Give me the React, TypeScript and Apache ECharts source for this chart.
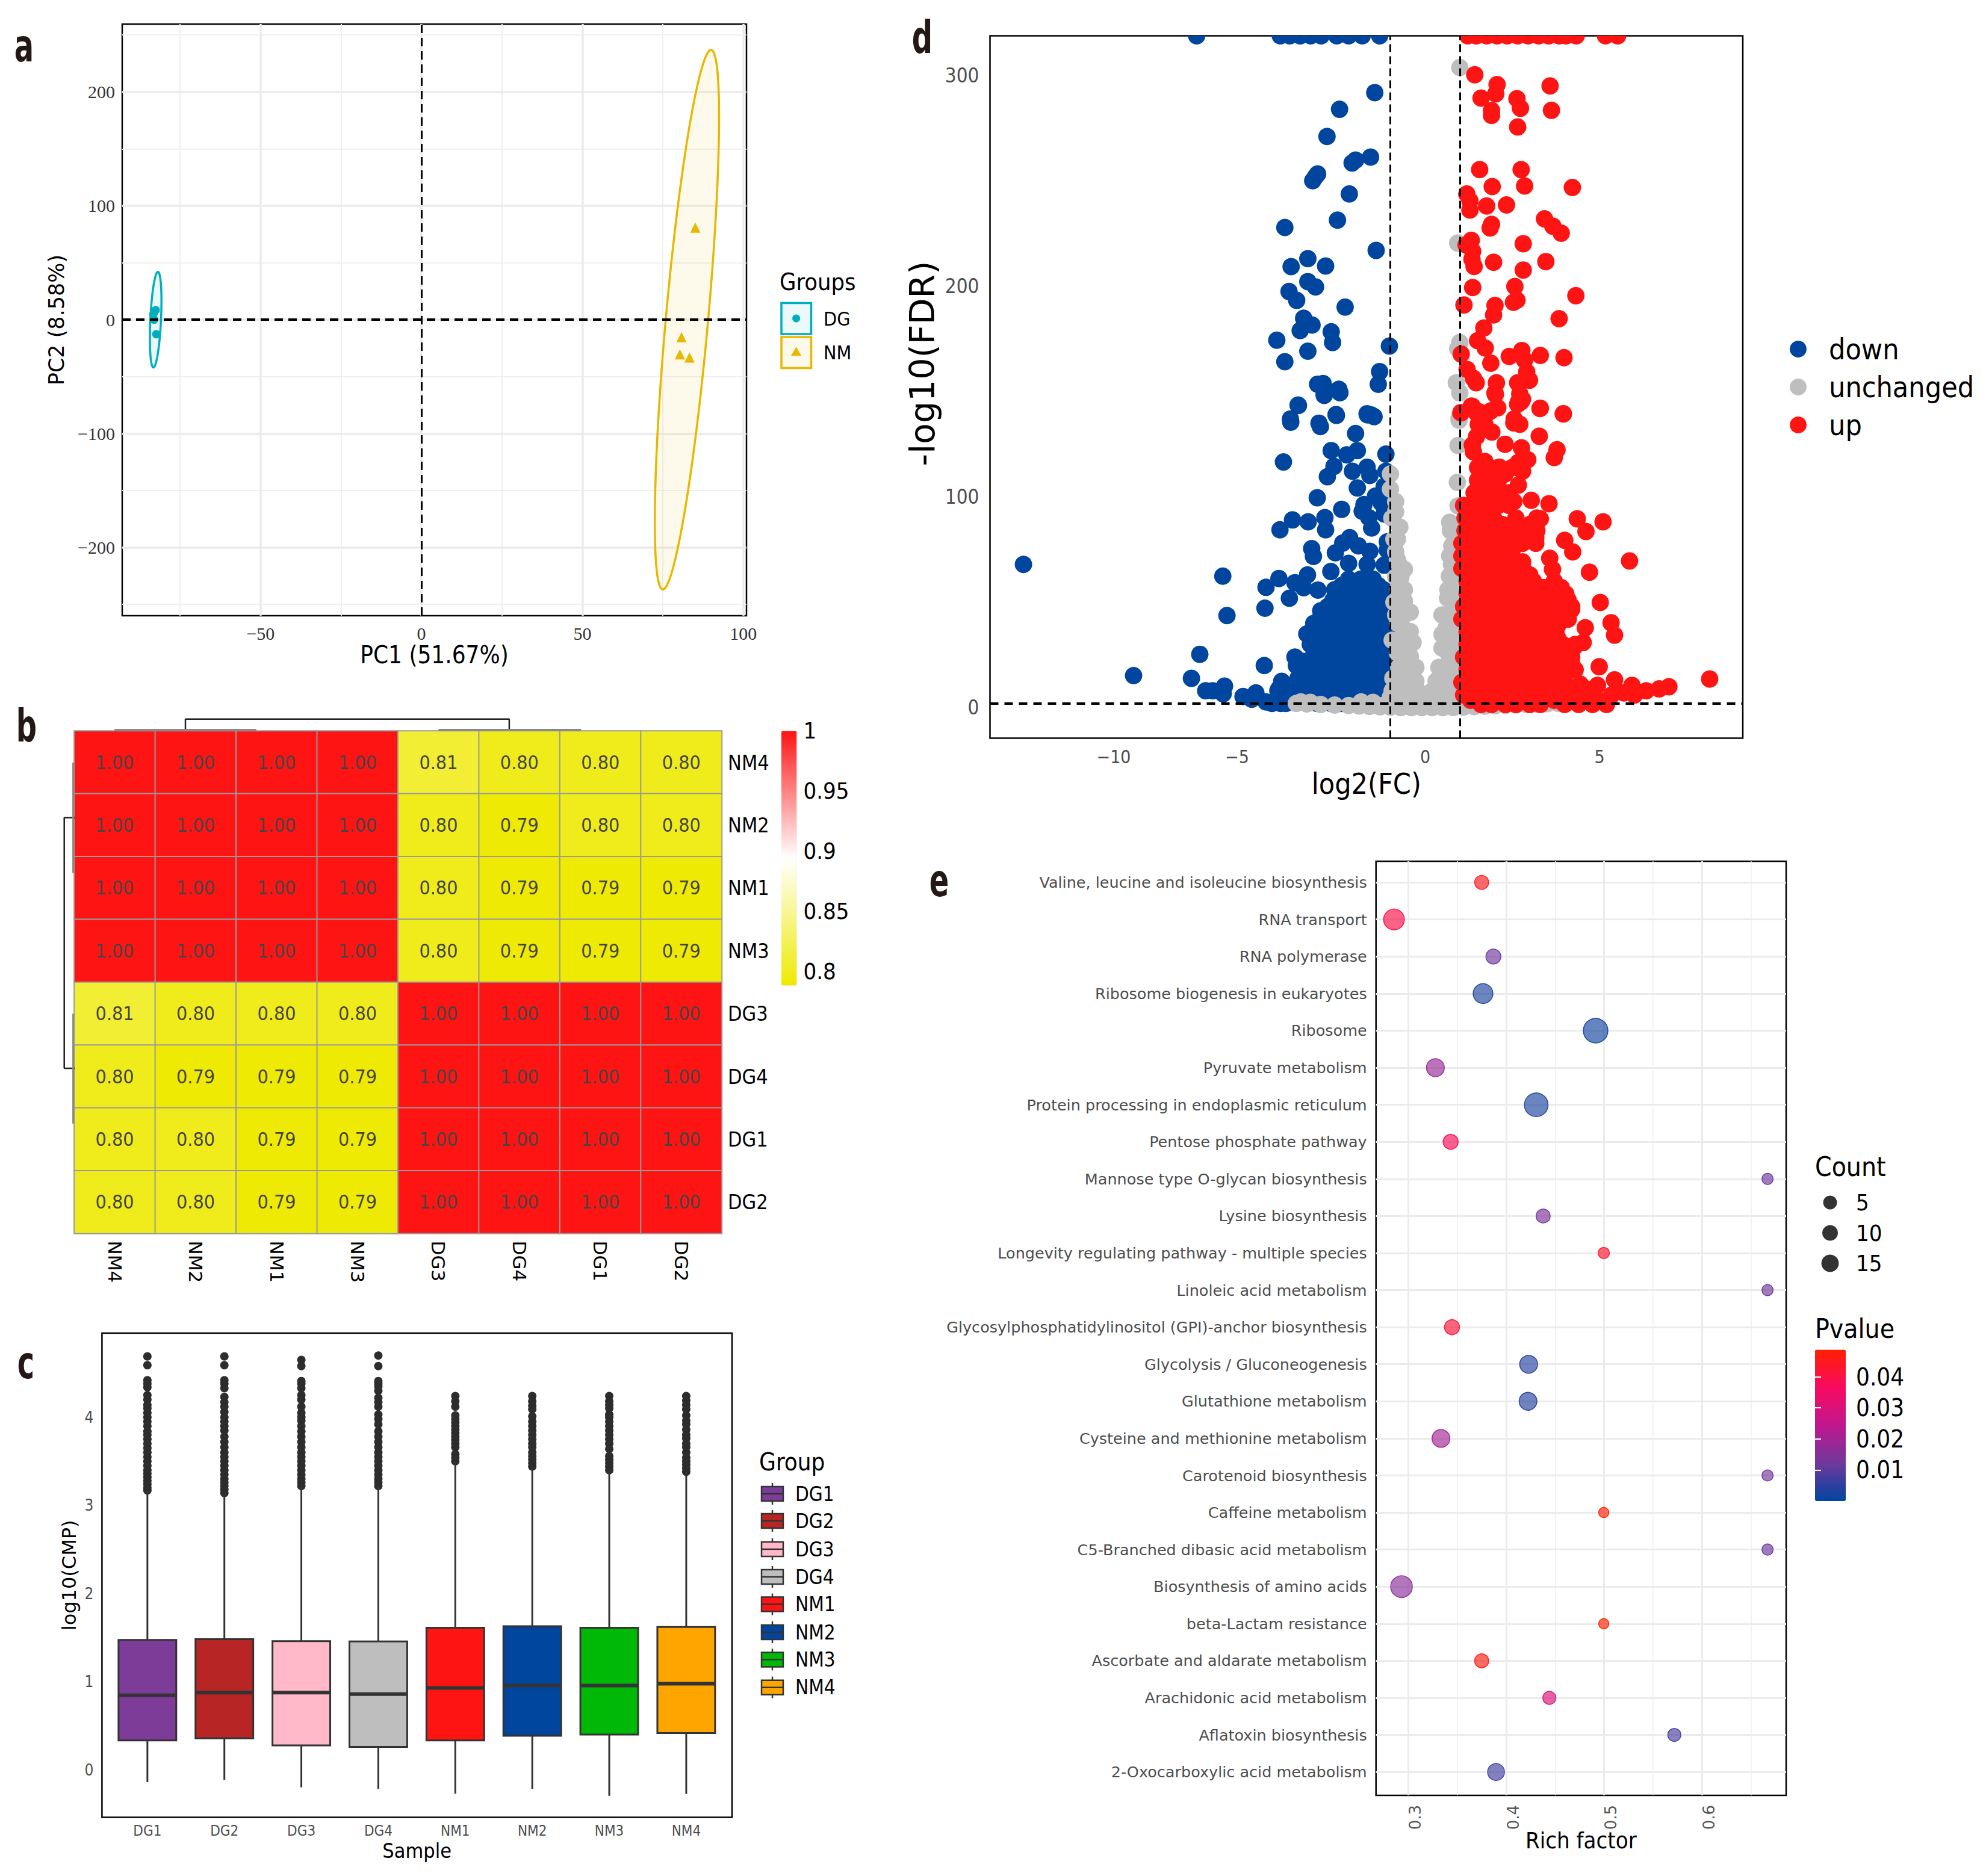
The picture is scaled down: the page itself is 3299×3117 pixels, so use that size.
import { useEffect, useRef } from 'react'
import * as echarts from 'echarts'

const SANS = 'DejaVu Sans Condensed, DejaVu Sans, sans-serif'
const WIDE = 'DejaVu Sans, sans-serif'
const SERIF = 'Liberation Serif, serif'
const TICK_GREY = '#4d4d4d'
const DARK = '#333333'

// a: PCA
const dgPoints = [[-82.6, 8.4], [-83.3, 4.7], [-83.1, 0], [-82.4, -12.8]]
const nmPoints = [[85.1, 80.8], [80.8, -15.4], [80.3, -30.5], [83.3, -33.2]]
// centre x, centre y, x lean, x half width, y half height
const pcaEllipses = [
  [-82.6, 0, 0.7, 1.66, 42],
  [82.5, 0, 7.5, 6.6, 237],
]
const pcaColors = ['#00AFBB', '#E7B800']
const pcaLegendNames = ['DG', 'NM']

// b: correlation heatmap
const heatNames = ['NM4', 'NM2', 'NM1', 'NM3', 'DG3', 'DG4', 'DG1', 'DG2']
const heatValues = [
  [1, 1, 1, 1, 0.81, 0.8, 0.8, 0.8],
  [1, 1, 1, 1, 0.8, 0.79, 0.8, 0.8],
  [1, 1, 1, 1, 0.8, 0.79, 0.79, 0.79],
  [1, 1, 1, 1, 0.8, 0.79, 0.79, 0.79],
  [0.81, 0.8, 0.8, 0.8, 1, 1, 1, 1],
  [0.8, 0.79, 0.79, 0.79, 1, 1, 1, 1],
  [0.8, 0.8, 0.79, 0.79, 1, 1, 1, 1],
  [0.8, 0.8, 0.79, 0.79, 1, 1, 1, 1],
]
const heatTicks = [0.8, 0.85, 0.9, 0.95, 1]
const dendroTop = [
  [[1.373, 0], [1.373, 0.8], [5.374, 0.8], [5.374, 0]],
]
const dendroTopFlat = [
  [[0.495, 0.06], [2.25, 0.06]],
  [[4.5, 0.06], [6.26, 0.06]],
]
const dendroLeft = [
  [[0, 1.38], [0.72, 1.38], [0.72, 5.37], [0, 5.37]],
]
const dendroLeftFlat = [
  [[0.1, 0.504], [0.1, 2.26]],
  [[0.1, 4.5], [0.1, 6.25]],
]

// c: boxplots
const boxNames = ['DG1', 'DG2', 'DG3', 'DG4', 'NM1', 'NM2', 'NM3', 'NM4']
const boxColors = ['#7D3C98', '#B72525', '#FFB9C8', '#BEBEBE', '#FF1414', '#00469F', '#00B906', '#FFA500']
// index, low whisker, q1, median, q3, high whisker
const boxStats = [
  [0, -0.139, 0.333, 0.846, 1.474, 3.166],
  [1, -0.114, 0.358, 0.876, 1.482, 3.137],
  [2, -0.198, 0.278, 0.876, 1.461, 3.217],
  [3, -0.215, 0.261, 0.859, 1.457, 3.22],
  [4, -0.27, 0.333, 0.93, 1.613, 3.495],
  [5, -0.215, 0.387, 0.956, 1.63, 3.44],
  [6, -0.295, 0.4, 0.956, 1.613, 3.398],
  [7, -0.274, 0.417, 0.977, 1.62, 3.377],
]
const boxOutliers = [
  [3.17, 3.2, 3.24, 3.28, 3.32, 3.36, 3.4, 3.45, 3.5, 3.55, 3.6, 3.65, 3.7, 3.75, 3.8, 3.84, 3.9, 3.95, 4.0, 4.05, 4.1, 4.14, 4.2, 4.25, 4.34, 4.38, 4.42, 4.59, 4.69],
  [3.14, 3.18, 3.22, 3.26, 3.3, 3.35, 3.4, 3.45, 3.5, 3.55, 3.6, 3.66, 3.72, 3.78, 3.85, 3.9, 3.95, 4.0, 4.06, 4.12, 4.17, 4.23, 4.33, 4.38, 4.42, 4.59, 4.69],
  [3.22, 3.26, 3.3, 3.35, 3.4, 3.45, 3.5, 3.55, 3.6, 3.66, 3.72, 3.78, 3.84, 3.9, 3.96, 4.0, 4.05, 4.12, 4.2, 4.25, 4.33, 4.38, 4.41, 4.58, 4.65],
  [3.22, 3.26, 3.3, 3.35, 3.4, 3.45, 3.5, 3.55, 3.6, 3.66, 3.72, 3.78, 3.84, 3.92, 3.98, 4.03, 4.12, 4.17, 4.22, 4.3, 4.35, 4.38, 4.41, 4.58, 4.7],
  [3.5, 3.54, 3.58, 3.66, 3.7, 3.74, 3.78, 3.82, 3.86, 3.9, 3.94, 3.98, 4.02, 4.12, 4.18, 4.24],
  [3.44, 3.48, 3.52, 3.56, 3.6, 3.66, 3.7, 3.75, 3.8, 3.85, 3.9, 3.95, 4.01, 4.09, 4.13, 4.18, 4.24],
  [3.4, 3.44, 3.48, 3.52, 3.56, 3.64, 3.7, 3.75, 3.8, 3.85, 3.9, 3.95, 4.0, 4.03, 4.1, 4.14, 4.18, 4.24],
  [3.38, 3.42, 3.46, 3.5, 3.54, 3.6, 3.66, 3.7, 3.76, 3.8, 3.86, 3.92, 3.96, 4.02, 4.09, 4.14, 4.19, 4.24],
]

// d: volcano. Points beyond the axis are pinned to its top and cut by the frame.
const volcanoTop = 318.9
const downTopX = [-6.56, -4.16, -3.89, -3.59, -3.29, -2.99, -2.54, -2.2, -1.81, -1.31]
const upTopX = [1.22, 1.46, 1.76, 2.06, 2.35, 2.65, 2.95, 3.25, 3.54, 3.84, 4.04, 4.33, 5.17, 5.52]
const downPoints = [
  [-1.45, 291.9], [-2.46, 284], [-2.82, 271.1], [-1.57, 261.3], [-2.0, 259.9], [-2.1, 258.5], [-3.09, 253.3], [-3.15, 252], [-3.23, 250.1],
  [-2.18, 243.8], [-2.52, 231.4], [-4.03, 227.9], [-1.41, 217], [-3.37, 213.1], [-3.85, 209.3], [-2.86, 209.6], [-3.37, 202.2], [-3.15, 199.7],
  [-3.91, 197.5], [-3.69, 193.3], [-2.3, 190.1], [-3.49, 184.8], [-3.25, 181.6], [-3.59, 179], [-2.7, 178.4], [-2.66, 173.3], [-4.26, 174.4],
  [-3.37, 169.2], [-1.03, 171.6], [-4.03, 164.2], [-1.31, 159.5], [-3.09, 153.5], [-2.93, 153.8], [-2.48, 151.1], [-1.35, 153.5], [-2.9, 149],
  [-3.65, 143.6], [-2.56, 139.1], [-1.67, 139.5], [-1.55, 138.9], [-3.87, 137], [-3.05, 135],
  [-2.9, 148.2], [-2.45, 149.5], [-3.64, 143.4], [-2.55, 138.7], [-1.66, 139], [-1.47, 138.1], [-3.86, 135.5], [-3.01, 133.4], [-2.0, 130.1],
  [-2.7, 122], [-1.95, 122], [-2.25, 120], [-1.13, 120.3], [-4.07, 116.6], [-2.62, 114.5], [-1.67, 114.1], [-2.09, 112.2], [-1.13, 112.2],
  [-2.81, 109.6], [-1.59, 110.2], [-1.95, 104.3], [-1.18, 105], [-1.43, 100.4], [-3.1, 99.6], [-1.01, 99.5], [-1.76, 96.4], [-1.26, 97.1],
  [-2.4, 94.1], [-1.81, 93.2], [-1.18, 91.9], [-1.62, 90.2], [-2.88, 90.2], [-3.81, 89.1], [-3.36, 88.2], [-4.17, 84.4], [-2.86, 84.4], [-1.54, 85.3],
  [-2.17, 80.7], [-1.09, 78.7], [-2.37, 78.1], [-1.92, 76.8], [-3.26, 75.5], [-2.58, 73.5], [-1.59, 74.2], [-1.09, 74.8], [-3.21, 71.8], [-2.2, 68.5],
  [-1.67, 68], [-1.18, 67.6], [-11.53, 68], [-5.81, 62.4], [-2.71, 64.6], [-4.2, 61.3], [-3.38, 63], [-3.74, 59.3], [-3.49, 56.9], [-3.08, 55.8],
  [-4.57, 57.1], [-3.9, 51.9], [-4.6, 47.2], [-5.69, 43.7], [-6.47, 25.3], [-4.62, 20], [-8.37, 15.2], [-6.71, 13.9], [-6.3, 8], [-6.1, 8],
  [-5.76, 10.2], [-5.8, 6.6], [-5.23, 5.3], [-4.86, 7], [-4.98, 4], [-4.57, 2.7], [-4.15, 2], [-4.12, 12.5], [-4.23, 8], [-3.74, 24],
]
// y, then the x values of that row in the dense block
const downRows: [number, number[]][] = [
  [61, [-2.2, -1.85, -1.5]],
  [58, [-2.4, -2.05, -1.7, -1.35]],
  [56, [-2.6, -2.25, -1.9, -1.55, -1.2]],
  [53, [-2.45, -2.1, -1.75, -1.4, -1.1]],
  [51, [-2.65, -2.3, -1.95, -1.6, -1.25]],
  [48, [-2.8, -2.45, -2.1, -1.7, -1.3]],
  [46, [-3.0, -2.6, -2.25, -1.9, -1.5, -1.1]],
  [43, [-3, -2.65, -2.3, -1.9, -1.5, -1.15]],
  [40, [-3.2, -2.85, -2.5, -2.1, -1.7, -1.3, -1.05]],
  [37, [-3.2, -2.85, -2.5, -2.15, -1.8, -1.45, -1.1]],
  [35, [-3.4, -3.05, -2.7, -2.35, -2, -1.65, -1.3, -1.05]],
  [32, [-3.15, -2.8, -2.45, -2.1, -1.75, -1.4, -1.1]],
  [30, [-3.3, -2.95, -2.6, -2.25, -1.9, -1.55, -1.2]],
  [27, [-3.0, -2.4, -2.05, -1.7, -1.35, -1.05]],
  [25, [-3.2, -2.6, -2.25, -1.9, -1.55, -1.1]],
  [22, [-3.5, -3.1, -2.7, -2.3, -1.9, -1.5, -1.15]],
  [20, [-3.7, -3.3, -2.9, -2.5, -2.1, -1.7, -1.3]],
  [17, [-3.5, -3.1, -2.75, -2.4, -2.05, -1.7, -1.35, -1.1]],
  [14, [-3.65, -3.3, -2.95, -2.6, -2.25, -1.9, -1.55, -1.2]],
  [11, [-3.5, -3.15, -2.8, -2.45, -2.1, -1.75, -1.4, -1.15]],
  [9, [-4.2, -3.7, -3.35, -3, -2.65, -2.3, -1.95, -1.6, -1.3]],
  [6, [-4, -3.6, -3.2, -2.85, -2.5, -2.1, -1.75]],
  [4, [-4.2, -3.85, -3.0, -2.65, -2.3, -1.9]],
  [2, [-4.4, -4, -3.1, -2.7, -2.4, -2.1]],
]
const unchangedPoints = [
  [0.99, 303.8], [0.93, 220.5], [0.99, 173.3], [0.93, 170.4], [0.89, 154.2], [0.99, 149.4], [0.97, 137.6],
  [-1.0, 110.9], [-1, 103.7], [-0.85, 97.8], [-0.96, 89.9], [-0.73, 85.7], [-0.8, 70.2], [-0.6, 65.6], [-0.73, 59.1], [-0.6, 50.6], [-0.43, 45.3],
  [-0.43, 36.1], [-0.35, 30.9], [-0.43, 24.3], [-0.27, 19.1], [-0.27, 12.6], [-0.19, 7.3], [-0.93, 13.9], [-0.76, 19.1], [-0.85, 8.6], [-0.8, 40], [-0.7, 30],
  [0.92, 106.9], [0.94, 95.8], [0.97, 136.4], [0.94, 124.4], [0.72, 84], [0.8, 86], [0.76, 76.8], [0.69, 62.4], [0.64, 51.9], [0.48, 44], [0.48, 34.8],
  [0.48, 28.3], [0.39, 19.1], [0.31, 12.6], [0.14, 7.3], [0.89, 20.4], [0.89, 32.2], [0.89, 45.3], [0.89, 61],
  [-3.57, 2.7], [-3.3, 2.5], [-1.84, 2.7], [-1.5, 2.5],
  [-3.7, 2], [-3.4, 1.8], [-3, 1.5], [-2.6, 1.2], [-2.2, 1], [-1.9, 0.8], [-1.6, 0.6], [-1.3, 0.4], [-1, 0.2], [-0.7, 0], [-0.4, 0], [-0.1, 0],
  [0.2, 0], [0.5, 0], [0.8, 0.1], [1.1, 0.3], [1.4, 0.5], [1.7, 0.7], [2, 0.9], [2.3, 1.1], [2.6, 1.3], [2.9, 1.5], [3.2, 1.7], [3.5, 1.9], [3.8, 2.1],
  [-0.8, 4], [-0.5, 4], [-0.2, 2], [0.1, 2], [0.4, 3], [0.7, 4], [1, 6], [-1, 5], [-0.1, 3], [0.1, 3],
  [-0.95, 8], [-0.7, 8], [-0.45, 8], [-0.7, 14], [-0.45, 14], [-0.55, 20], [-0.8, 26], [-0.6, 26], [-0.95, 32], [-0.7, 32], [-0.5, 32], [-0.65, 38],
  [-0.85, 44], [-0.6, 44], [-0.9, 50], [-0.75, 50], [-0.8, 56], [-0.6, 56], [-0.85, 62], [-0.7, 62], [-0.75, 68], [-0.85, 74], [-0.9, 80], [-0.8, 80], [-0.85, 93],
  [0.3, 8], [0.6, 8], [0.9, 8], [0.5, 14], [0.8, 14], [0.6, 20], [0.65, 26], [0.85, 26], [0.6, 32], [0.8, 32], [0.6, 38], [0.8, 38], [0.7, 44], [0.75, 50],
  [0.8, 56], [0.65, 56], [0.75, 68], [0.7, 72], [0.7, 88],
]
const upPoints = [
  [1.42, 300.4], [2.06, 295.7], [2.02, 291.3], [1.6, 289.3], [2.63, 289], [2.73, 284.5], [3.58, 295.1], [3.62, 283.5], [1.9, 283.4], [1.9, 281.1],
  [2.65, 275.6], [1.56, 255.4], [2.75, 255.4], [1.92, 247.3], [2.85, 247.6], [4.22, 246.9], [1.19, 243.8], [1.28, 240.5], [1.28, 236.2], [1.76, 238.1],
  [2.33, 238.6], [3.42, 232], [3.66, 228.5], [3.9, 225.2], [1.9, 229.4], [1.86, 227.7], [1.32, 221.8], [1.17, 219.6], [2.81, 220.2], [1.36, 216.6],
  [1.34, 212.8], [1.4, 209.4], [1.96, 211.4], [3.46, 211.7], [2.81, 207.7], [1.36, 199.4], [2.57, 199.9], [4.32, 195.5], [2.63, 193.4], [2.53, 192.4],
  [1.11, 191.1], [2.0, 190.9], [1.96, 186.4], [3.84, 184.6], [1.68, 180.2], [1.5, 174.2], [1.72, 170.7], [1.03, 167.8], [2.41, 166.7], [2.77, 169.5],
  [2.85, 165], [3.3, 167.2], [3.98, 166.1], [1.88, 163.5], [1.2, 160.5], [2.91, 159.3], [1.38, 156.3], [1.46, 154.2], [2.04, 154.2], [2.99, 155.4],
  [2.65, 154.2], [2.0, 149.4], [2.71, 149], [2.75, 145.2], [2.65, 144], [2.04, 142.3], [1.32, 143.1], [3.29, 142], [1.03, 139.9], [1.46, 140.1],
  [1.76, 139.5], [3.96, 139.5], [2.55, 137], [2.01, 148.6], [2.67, 145], [2.79, 146.3], [3.3, 142.1], [3.96, 139.4], [1.35, 143], [1.02, 140],
  [1.55, 140.4], [1.88, 140.8], [2.08, 142.3], [2.54, 135.1], [2.71, 134.5], [1.52, 134.5], [1.71, 134.5], [1.47, 128.6], [1.91, 130.8], [3.27, 128.8],
  [2.29, 125], [2.76, 123.3], [3.78, 122.4], [3.7, 118.7], [1.38, 121.4], [1.35, 124.6], [1.71, 116.8], [2.94, 117.7], [2.67, 116.4], [2.79, 112.2],
  [1.71, 112.8], [2.13, 114.1], [2.29, 110.9], [1.6, 105.9], [2.67, 105.6], [1.88, 101.7], [1.55, 101], [3.04, 98.4], [3.55, 96.8], [2.54, 97.8],
  [2.05, 98.4], [1.3, 93.8], [1.71, 92.5], [3.3, 89.6], [4.36, 89.6], [5.1, 88.2], [2.63, 87.9], [4.61, 83.6], [4, 79.4], [3.17, 80.7], [2.79, 78.7],
  [4.23, 73.9], [3.57, 70.9], [2.79, 69.2], [5.86, 69.6], [3.65, 65.6], [4.71, 64.3], [5.02, 49.9], [5.33, 40.3], [5.43, 34.4], [4.59, 37.9], [4.99, 19.4],
  [8.16, 13.6], [6.99, 9.9], [6.71, 8.9], [6.34, 8], [5.93, 10.6], [5.43, 13.2], [4.94, 10.6], [4.44, 11.2], [5.35, 6], [4.85, 4.7], [4.28, 4], [3.87, 3.4],
  [5.7, 7], [6.0, 6], [4.03, 46.6], [4.2, 46.6], [4.03, 53.8], [3.7, 58.4], [4.28, 28.9], [4.53, 30.9],
]
const upRows: [number, number[]][] = [
  [114, [1.5, 1.8, 2.1, 2.5]],
  [108, [1.5, 1.75, 2.1]],
  [102, [1.4, 1.75, 2.1, 2.4]],
  [96, [1.1, 1.4, 1.75, 2.1, 2.4]],
  [90, [1.14, 1.55, 1.96, 2.6, 3.2]],
  [87, [1.35, 1.75, 2.2, 3.0]],
  [84, [1.14, 1.55, 1.96, 2.38, 2.79, 3.2]],
  [81, [1.3, 1.7, 2.15, 2.6, 3.0]],
  [78, [1.05, 1.5, 1.9, 2.3, 2.79, 3.17]],
  [75, [1.25, 1.65, 2.0, 2.5]],
  [72, [1.05, 1.4, 1.8, 2.2]],
  [69, [1.2, 1.6, 2.0, 2.5]],
  [66, [1.05, 1.4, 1.8, 2.2, 2.8]],
  [63, [1.4, 1.8, 2.2, 2.6, 3]],
  [60, [1.2, 1.6, 2, 2.4, 2.8, 3.1, 3.7]],
  [57, [1.4, 1.8, 2.2, 2.6, 3, 3.4, 3.9]],
  [54, [1.2, 1.6, 2, 2.4, 2.8, 3.2, 3.6, 4.03]],
  [51, [1.3, 1.7, 2.1, 2.5, 2.9, 3.3, 3.7, 4.1]],
  [48, [1.1, 1.5, 1.9, 2.3, 2.7, 3.1, 3.5, 3.9, 4.2]],
  [45, [1.25, 1.6, 2, 2.4, 2.8, 3.2, 3.6, 4]],
  [42, [1.05, 1.4, 1.8, 2.2, 2.6, 3, 3.4, 3.8, 4.1]],
  [39, [1.4, 1.8, 2.2, 2.6, 3, 3.4, 3.8]],
  [36, [1.2, 1.6, 2, 2.4, 2.8, 3.2, 3.6, 3.75]],
  [33, [1.4, 1.8, 2.2, 2.6, 3, 3.4, 3.8]],
  [30, [1.2, 1.6, 2, 2.4, 2.8, 3.2, 3.6, 3.95, 4.3]],
  [27, [1.3, 1.7, 2.1, 2.5, 2.9, 3.3, 3.7, 4.1]],
  [24, [1.1, 1.5, 1.9, 2.3, 2.7, 3.1, 3.5, 3.9, 4.2]],
  [21, [1.4, 1.8, 2.2, 2.6, 3, 3.4, 3.8, 4.2]],
  [18, [1.2, 1.6, 2, 2.4, 2.8, 3.2, 3.6, 4.0, 4.3]],
  [15, [1.25, 1.6, 2, 2.4, 2.8, 3.2, 3.6, 4]],
  [12, [1.05, 1.4, 1.8, 2.2, 2.6, 3, 3.4, 3.8]],
  [9, [1.3, 1.7, 2.1, 2.5, 2.9, 3.3, 3.7, 4.1, 4.6]],
  [6, [1.1, 1.5, 1.9, 2.3, 2.7, 3.1, 3.5, 3.9, 4.3]],
  [3.5, [1.3, 1.7, 2.1, 2.5, 2.9, 3.3, 3.7, 4.2, 4.6, 5]],
  [1.5, [1.6, 1.9, 2.3, 2.6, 3.0, 3.3, 4, 4.4, 4.8, 5.2]],
]
// the printed -10 and -5 sit off the linear scale in the figure
const volcanoXTickAt = [-8.94, -5.4, 0, 5]
const volcanoXTickText = ['\u221210', '\u22125', '0', '5']
const volcanoNames = ['down', 'unchanged', 'up']
const volcanoColors = ['#00469F', '#BEBEBE', '#FF1414']

// e: KEGG enrichment, top row first
const pathways = [
  'Valine, leucine and isoleucine biosynthesis', 'RNA transport', 'RNA polymerase', 'Ribosome biogenesis in eukaryotes', 'Ribosome',
  'Pyruvate metabolism', 'Protein processing in endoplasmic reticulum', 'Pentose phosphate pathway', 'Mannose type O-glycan biosynthesis',
  'Lysine biosynthesis', 'Longevity regulating pathway - multiple species', 'Linoleic acid metabolism',
  'Glycosylphosphatidylinositol (GPI)-anchor biosynthesis', 'Glycolysis / Gluconeogenesis', 'Glutathione metabolism',
  'Cysteine and methionine metabolism', 'Carotenoid biosynthesis', 'Caffeine metabolism', 'C5-Branched dibasic acid metabolism',
  'Biosynthesis of amino acids', 'beta-Lactam resistance', 'Ascorbate and aldarate metabolism', 'Arachidonic acid metabolism',
  'Aflatoxin biosynthesis', '2-Oxocarboxylic acid metabolism',
]
const richFactor = [0.3748, 0.2852, 0.3868, 0.3762, 0.4913, 0.3275, 0.4306, 0.3431, 0.667, 0.4377, 0.4996, 0.667, 0.3445, 0.4228, 0.4222, 0.3332, 0.667, 0.4996, 0.667, 0.2929, 0.4996, 0.3748, 0.444, 0.5717, 0.3895]
const pathwayCount = [7, 14, 8, 13, 18, 11, 17, 8, 4, 7, 4, 4, 8, 11, 11, 11, 4, 3, 4, 15, 3, 7, 6, 6, 10]
const pathwayP = [0.045, 0.04, 0.012, 0.003, 0.002, 0.018, 0.003, 0.038, 0.012, 0.014, 0.043, 0.012, 0.042, 0.004, 0.004, 0.02, 0.013, 0.049, 0.012, 0.016, 0.049, 0.047, 0.03, 0.008, 0.007]
const pvalueStops = ['#00469F', '#70389C', '#C0178E', '#F80A60', '#FF2000']
const pvalueMax = 0.0487
const countLegend = ['5', '10', '15']
// the printed 0.3 .. 0.6 sit a little right of their grid lines in the figure
const richLabelAt = [0.307, 0.407, 0.507, 0.607]
const pvalueTicks = [0.01, 0.02, 0.03, 0.04]

const hiddenAxis = (gridIndex: number, min: number, max: number, inverse = false) => ({
  show: false, type: 'value', gridIndex, min, max, inverse,
})

// guide lines, drawn as marker lines through the axes of a grid
const rules = (axis: number, xs: number[], ys: number[], color: string, width: number, z: number, type: any = 'solid') => ({
  type: 'line',
  xAxisIndex: axis,
  yAxisIndex: axis,
  data: [],
  silent: true,
  z,
  markLine: {
    silent: true,
    symbol: 'none',
    z,
    label: { show: false },
    lineStyle: { color, width, type },
    data: [...xs.map((v) => ({ xAxis: v })), ...ys.map((v) => ({ yAxis: v }))],
  },
})

const text = (x: number, y: number, str: string, fontSize: number, extra: any = {}, el: any = {}) => ({
  type: 'text',
  x,
  y,
  z: 20,
  ...el,
  style: {
    text: str,
    fontSize,
    fontFamily: SANS,
    fill: '#000',
    textAlign: 'left',
    textVerticalAlign: 'middle',
    verticalAlign: 'middle',
    ...extra,
  },
})

const renderEllipse = (params: any, api: any) => {
  const [cx, cy, dx, ex, ry] = [0, 1, 2, 3, 4].map((i) => api.value(i))
  const points: number[][] = []
  for (let k = 0; k < 72; k++) {
    const t = (k / 72) * 2 * Math.PI
    points.push(api.coord([cx + dx * Math.cos(t) + ex * Math.sin(t), cy + ry * Math.cos(t)]))
  }
  const color = pcaColors[params.dataIndex]
  return {
    type: 'polygon',
    shape: { points },
    style: { fill: color, fillOpacity: 0.08, stroke: color, lineWidth: 3.5 },
  }
}

const renderBox = (params: any, api: any) => {
  const i = api.value(0)
  const half = api.size([0.75, 0])[0] / 2
  const x = api.coord([i, 0])[0]
  const y = (dim: number) => api.coord([i, api.value(dim)])[1]
  return {
    type: 'group',
    children: [
      { type: 'line', shape: { x1: x, y1: y(1), x2: x, y2: y(5) }, style: { stroke: DARK, lineWidth: 3 } },
      {
        type: 'rect',
        shape: { x: x - half, y: y(4), width: half * 2, height: y(2) - y(4) },
        style: { fill: boxColors[params.dataIndex], stroke: DARK, lineWidth: 3 },
      },
      { type: 'line', shape: { x1: x - half, y1: y(3), x2: x + half, y2: y(3) }, style: { stroke: DARK, lineWidth: 6 } },
    ],
  }
}

// scatter only drops points outside the grid; a custom series really clips them
const clippedDots = (xs: number[], color: string, z: number) => ({
  type: 'custom',
  xAxisIndex: 3,
  yAxisIndex: 3,
  z,
  clip: true,
  data: xs.map((x) => [x, volcanoTop]),
  encode: { x: 0, y: 1 },
  renderItem: (_: any, api: any) => {
    const [cx, cy] = api.coord([api.value(0), api.value(1)])
    return { type: 'circle', shape: { cx, cy, r: 14.5 }, style: { fill: color } }
  },
})

const dendroSeries = (axis: number, lines: number[][][], color: string, width: number) =>
  lines.map((data) => ({
    type: 'line',
    xAxisIndex: axis,
    yAxisIndex: axis,
    data,
    showSymbol: false,
    silent: true,
    lineStyle: { color, width },
  }))

const pvalueColor = (p: number, alpha: number) => {
  const rgba = echarts.color.parse(echarts.color.lerp(Math.min(p / pvalueMax, 1), pvalueStops))
  return `rgba(${rgba[0]},${rgba[1]},${rgba[2]},${alpha})`
}

function buildOption() {
  const volcanoDown = [...downPoints, ...downRows.flatMap(([y, xs]) => xs.map((x) => [x, y]))]
  const volcanoUp = [...upPoints, ...upRows.flatMap(([y, xs]) => xs.map((x) => [x, y]))]

  const tickLabel = { color: TICK_GREY, fontFamily: SANS }
  const frame = { show: true, borderColor: '#000', borderWidth: 2.5 }

  const grid = [
    { left: 203, top: 40, width: 1037, height: 983, ...frame }, // 0 a
    { left: 123.4, top: 1214.4, width: 1075.6, height: 835.2 }, // 1 b
    { left: 169.4, top: 2215, width: 1046.6, height: 804.6, ...frame }, // 2 c
    { left: 1644.5, top: 59.4, width: 1250.5, height: 1167.1, ...frame }, // 3 d
    { left: 2285.7, top: 1431, width: 681.3, height: 1552, ...frame }, // 4 e
    { left: 1298, top: 1214.4, width: 25.5, height: 423 }, // 5 b colour bar
    { left: 3015, top: 2242.6, width: 51, height: 251.4 }, // 6 e colour bar
    { left: 123.4, top: 1190, width: 1075.6, height: 24 }, // 7 top dendrogram
    { left: 100, top: 1214.4, width: 24, height: 835.2 }, // 8 left dendrogram
  ]

  const xAxis: any[] = [
    {
      type: 'value', gridIndex: 0, min: -93, max: 101, name: 'PC1 (51.67%)', nameLocation: 'middle', nameGap: 44,
      nameTextStyle: { fontSize: 40, fontFamily: SANS, color: '#000' },
      splitLine: { show: false }, axisLine: { show: false },
      axisTick: { customValues: [-50, 0, 50, 100], length: 7, lineStyle: { color: '#333', width: 2 } },
      axisLabel: { customValues: [-50, 0, 50, 100], fontFamily: SERIF, fontSize: 30, color: '#333', margin: 14, formatter: (v: number) => String(v).replace('-', '\u2212') },
    },
    {
      type: 'category', gridIndex: 1, data: heatNames, axisLine: { show: false }, axisTick: { show: false }, splitLine: { show: false },
      axisLabel: { rotate: -90, fontFamily: WIDE, fontSize: 31, color: '#000', margin: 12 },
    },
    {
      type: 'value', gridIndex: 2, min: -0.59, max: 7.595, name: 'Sample', nameLocation: 'middle', nameGap: 38, nameMoveOverlap: false,
      nameTextStyle: { fontSize: 34, fontFamily: SANS, color: '#000' },
      splitLine: { show: false }, axisLine: { show: false }, axisTick: { show: false },
      axisLabel: { ...tickLabel, customValues: [0, 1, 2, 3, 4, 5, 6, 7], fontSize: 24, margin: 10, formatter: (v: number) => boxNames[v] },
    },
    {
      type: 'value', gridIndex: 3, min: -12.49, max: 9.11, name: 'log2(FC)', nameLocation: 'middle', nameGap: 51, nameMoveOverlap: false,
      nameTextStyle: { fontSize: 48, fontFamily: SANS, color: '#000' },
      splitLine: { show: false }, axisLine: { show: false }, axisTick: { show: false },
      axisLabel: { ...tickLabel, customValues: volcanoXTickAt, fontSize: 30, margin: 16, formatter: (v: number) => volcanoXTickText[volcanoXTickAt.indexOf(v)] },
    },
    {
      type: 'value', gridIndex: 4, min: 0.2668, max: 0.686, name: 'Rich factor', nameLocation: 'middle', nameGap: 56, nameMoveOverlap: false,
      nameTextStyle: { fontSize: 38, fontFamily: SANS, color: '#000' },
      splitLine: { show: false }, axisLine: { show: false }, axisTick: { show: false },
      axisLabel: { color: '#555', fontFamily: WIDE, customValues: richLabelAt, fontSize: 26, rotate: 90, margin: 16, formatter: (v: number) => v.toFixed(1) },
    },
    hiddenAxis(5, 0, 1),
    hiddenAxis(6, 0, 1),
    hiddenAxis(7, 0, 8),
    hiddenAxis(8, 0, 1, true),
  ]

  const yAxis: any[] = [
    {
      type: 'value', gridIndex: 0, min: -260, max: 259.6, name: 'PC2 (8.58%)', nameLocation: 'middle', nameGap: 92, nameRotate: 90,
      nameTextStyle: { fontSize: 35, fontFamily: WIDE, color: '#000' },
      splitLine: { show: false }, axisLine: { show: false },
      axisTick: { customValues: [-200, -100, 0, 100, 200], length: 7, lineStyle: { color: '#333', width: 2 } },
      axisLabel: { customValues: [-200, -100, 0, 100, 200], fontFamily: SERIF, fontSize: 30, color: '#333', margin: 12, formatter: (v: number) => String(v).replace('-', '\u2212') },
    },
    {
      type: 'category', gridIndex: 1, data: heatNames, inverse: true, position: 'right', axisLine: { show: false }, axisTick: { show: false }, splitLine: { show: false },
      axisLabel: { fontFamily: SANS, fontSize: 34, color: '#000', margin: 10 },
    },
    {
      type: 'value', gridIndex: 2, min: -0.539, max: 4.954, name: 'log10(CMP)', nameLocation: 'middle', nameGap: 38, nameRotate: 90,
      nameTextStyle: { fontSize: 32, fontFamily: WIDE, color: '#000' },
      splitLine: { show: false }, axisLine: { show: false }, axisTick: { show: false },
      axisLabel: { ...tickLabel, customValues: [0, 1, 2, 3, 4], fontSize: 26, margin: 14 },
    },
    {
      type: 'value', gridIndex: 3, min: -14.5, max: volcanoTop,
      splitLine: { show: false }, axisLine: { show: false }, axisTick: { show: false },
      axisLabel: { ...tickLabel, customValues: [0, 100, 200, 300], fontSize: 33, margin: 18 },
    },
    {
      type: 'value', gridIndex: 4, min: -0.57, max: 24.63, inverse: true,
      splitLine: { show: false }, axisLine: { show: false }, axisTick: { show: false },
      axisLabel: { color: TICK_GREY, fontFamily: WIDE, customValues: pathways.map((_, i) => i), fontSize: 25.5, margin: 15, formatter: (v: number) => pathways[v] },
    },
    {
      type: 'value', gridIndex: 5, min: 0.7885, max: 1, position: 'right', z: 10,
      splitLine: { show: false }, axisLine: { show: false }, axisTick: { show: false },
      axisLabel: { customValues: heatTicks, fontFamily: SANS, fontSize: 38, color: '#000', margin: 11, formatter: (v: number) => String(v) },
    },
    {
      type: 'value', gridIndex: 6, min: 0, max: pvalueMax, position: 'right', z: 10,
      splitLine: { show: false }, axisLine: { show: false },
      axisTick: { customValues: pvalueTicks, inside: true, length: 10, lineStyle: { color: '#fff', width: 2 } },
      axisLabel: { customValues: pvalueTicks, fontFamily: SANS, fontSize: 40, color: '#000', margin: 17, formatter: (v: number) => v.toFixed(2) },
    },
    hiddenAxis(7, 0, 1),
    hiddenAxis(8, 0, 8, true),
    {
      type: 'value', gridIndex: 6, min: 0, max: pvalueMax, position: 'left', z: 10,
      splitLine: { show: false }, axisLine: { show: false }, axisLabel: { show: false },
      axisTick: { customValues: pvalueTicks, inside: true, length: 10, lineStyle: { color: '#fff', width: 2 } },
    },
  ]

  const series: any[] = [
    // kept first: the heat visualMap points at this index
    {
      type: 'heatmap',
      xAxisIndex: 1,
      yAxisIndex: 1,
      data: heatValues.flatMap((row, r) => row.map((v, c) => [c, r, v])),
      itemStyle: { borderColor: '#9a9a9a', borderWidth: 2 },
      label: { show: true, fontFamily: SANS, fontSize: 32, color: '#444', formatter: (p: any) => p.value[2].toFixed(2) },
    },
    {
      type: 'scatter',
      xAxisIndex: 4,
      yAxisIndex: 4,
      z: 3,
      data: pathways.map((_, i) => ({
        value: [richFactor[i], i, pathwayCount[i], pathwayP[i]],
        itemStyle: { color: pvalueColor(pathwayP[i], 0.65), borderColor: pvalueColor(pathwayP[i], 0.95), borderWidth: 1.5, opacity: 1 },
      })),
      encode: { x: 0, y: 1 },
      symbolSize: (v: number[]) => 12 + 1.6 * v[2],
    },
    // a
    rules(0, [-75, -25, 25, 75], [-250, -150, -50, 50, 150, 250], '#EFEFEF', 2, 1),
    rules(0, [-50, 0, 50, 100], [-200, -100, 0, 100, 200], '#EBEBEB', 3.5, 1),
    {
      type: 'custom', xAxisIndex: 0, yAxisIndex: 0, z: 2, data: pcaEllipses, encode: { x: 0, y: 1 }, renderItem: renderEllipse,
    },
    { type: 'scatter', xAxisIndex: 0, yAxisIndex: 0, z: 3, data: dgPoints, symbol: 'circle', symbolSize: 14, itemStyle: { color: pcaColors[0], opacity: 1 } },
    { type: 'scatter', xAxisIndex: 0, yAxisIndex: 0, z: 3, data: nmPoints, symbol: 'triangle', symbolSize: 17, itemStyle: { color: pcaColors[1], opacity: 1 } },
    rules(0, [0], [], '#000', 3, 4, [14, 8]),
    rules(0, [], [0], '#000', 4, 4, [14, 9]),
    // b dendrograms
    ...dendroSeries(7, dendroTop, '#222', 2.5),
    ...dendroSeries(7, dendroTopFlat, '#888', 3),
    ...dendroSeries(8, dendroLeft, '#222', 2.5),
    ...dendroSeries(8, dendroLeftFlat, '#888', 3),
    // c
    {
      type: 'scatter', xAxisIndex: 2, yAxisIndex: 2, z: 2,
      data: boxOutliers.flatMap((values, i) => values.map((v) => [i, v])),
      symbolSize: 14, itemStyle: { color: '#2d2d2d', opacity: 1 },
    },
    {
      type: 'custom', xAxisIndex: 2, yAxisIndex: 2, z: 3, data: boxStats, encode: { x: 0, y: [1, 2, 3, 4, 5] }, renderItem: renderBox,
    },
    // d
    { name: 'down', type: 'scatter', xAxisIndex: 3, yAxisIndex: 3, z: 3, data: volcanoDown, symbolSize: 29, itemStyle: { color: volcanoColors[0], opacity: 1 } },
    { name: 'unchanged', type: 'scatter', xAxisIndex: 3, yAxisIndex: 3, z: 4, data: unchangedPoints, symbolSize: 29, itemStyle: { color: volcanoColors[1], opacity: 1 } },
    { name: 'up', type: 'scatter', xAxisIndex: 3, yAxisIndex: 3, z: 5, data: volcanoUp, symbolSize: 29, itemStyle: { color: volcanoColors[2], opacity: 1 } },
    clippedDots(downTopX, volcanoColors[0], 3),
    clippedDots(upTopX, volcanoColors[2], 5),
    rules(3, [-1, 1], [], '#000', 3, 6, [13, 7]),
    rules(3, [], [2], '#000', 4, 6, [14, 10]),
    // e
    rules(4, [0.35, 0.45, 0.55, 0.65], [], '#EFEFEF', 1.5, 1),
    rules(4, [0.3, 0.4, 0.5, 0.6], pathways.map((_, i) => i), '#EBEBEB', 3, 1),
  ]

  const visualMap = [
    {
      type: 'continuous', seriesIndex: 0, dimension: 2, min: 0.7885, max: 1, calculable: false, hoverLink: false, padding: 0,
      left: 1298, top: 1214.4, itemWidth: 25.5, itemHeight: 423,
      inRange: { color: ['#EEEA00', '#FFFFFF', '#FF1414'] },
    },
    {
      // only the colour bar: the points take their colour from pvalueColor
      type: 'continuous', seriesIndex: [], min: 0, max: pvalueMax, calculable: false, hoverLink: false, padding: 0,
      left: 3015, top: 2242.6, itemWidth: 51, itemHeight: 251.4,
      inRange: { color: pvalueStops },
    },
  ]

  const panelLabels: [string, number, number][] = [
    ['a', 40, 76], ['b', 44, 1206], ['c', 43, 2264], ['d', 1532, 62], ['e', 1560, 1463],
  ]
  const groupKeyY = [2482, 2527, 2574, 2620, 2665.6, 2712, 2757.4, 2803.7]
  const graphicItems: any[] = [
    ...panelLabels.map(([s, x, y]) => text(x, y, s, 74, { fontWeight: 'bold', fill: '#231815', textAlign: 'center' }, { scaleX: 0.72 })),
    // a legend
    text(1295, 468, 'Groups', 39.5),
    ...pcaLegendNames.flatMap((name, i) => {
      const y = [503.6, 560][i]
      return [
        { type: 'rect', shape: { x: 1298, y, width: 49.5, height: 51.5 }, style: { fill: pcaColors[i], fillOpacity: 0.08, stroke: pcaColors[i], lineWidth: 3.5 } },
        text(1368, y + 26, name, 32),
      ]
    }),
    { type: 'circle', shape: { cx: 1322.6, cy: 529, r: 6.5 }, style: { fill: pcaColors[0] } },
    { type: 'polygon', shape: { points: [[1322.6, 576], [1331, 591], [1314, 591]] }, style: { fill: pcaColors[1] } },
    // c legend
    text(1261, 2429, 'Group', 40),
    ...boxNames.flatMap((name, i) => {
      const y = groupKeyY[i]
      return [
        { type: 'line', shape: { x1: 1283, y1: y - 18, x2: 1283, y2: y + 18 }, style: { stroke: DARK, lineWidth: 2.5 } },
        { type: 'rect', shape: { x: 1265, y: y - 12, width: 36, height: 24 }, style: { fill: boxColors[i], stroke: DARK, lineWidth: 2.5 } },
        { type: 'line', shape: { x1: 1265, y1: y, x2: 1301, y2: y }, style: { stroke: DARK, lineWidth: 2.5 } },
        text(1321, y, name, 33),
      ]
    }),
    // d y title sits above the middle of the panel in the figure
    text(1532, 604, '-log10(FDR)', 57, { fontFamily: WIDE, textAlign: 'center' }, { rotation: Math.PI / 2 }),
    // e legends
    text(3015, 1938, 'Count', 44),
    ...countLegend.flatMap((label, i) => {
      const y = [1998, 2048.6, 2099][i]
      return [
        { type: 'circle', shape: { cx: 3040, cy: y, r: [11.5, 13, 14.5][i] }, style: { fill: DARK } },
        text(3083, y, label, 38),
      ]
    }),
    text(3015, 2207.6, 'Pvalue', 44),
  ]

  return {
    animation: false,
    backgroundColor: '#fff',
    grid,
    xAxis,
    yAxis,
    series,
    visualMap,
    graphic: { elements: graphicItems },
    legend: {
      data: volcanoNames, orient: 'vertical', left: 2968, top: 551, icon: 'circle', itemWidth: 28, itemHeight: 28, itemGap: 15, selectedMode: false,
      textStyle: { fontFamily: SANS, fontSize: 48, color: '#000', padding: [0, 0, 0, 32] },
    },
  }
}

export default function App() {
  const ref = useRef<HTMLDivElement>(null)

  useEffect(() => {
    if (!ref.current) {
      return
    }
    const chart = echarts.init(ref.current, undefined, { renderer: 'svg' })
    chart.setOption(buildOption() as any)
    return () => chart.dispose()
  }, [])

  return <div ref={ref} style={{ position: 'absolute', left: 0, top: 0, width: 3299, height: 3117 }} />
}
